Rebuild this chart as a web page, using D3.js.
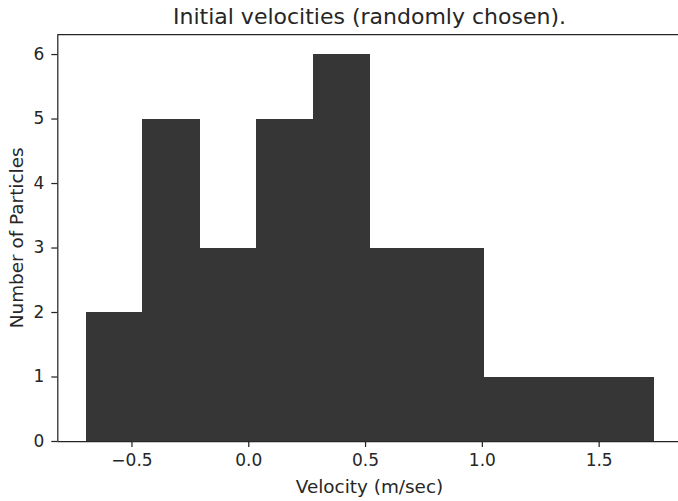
<!DOCTYPE html>
<html>
<head>
<meta charset="utf-8">
<script src="https://cdn.jsdelivr.net/npm/d3@7"></script>
<style>
  body { margin: 0; background: #fff; }
  text { font-family: "DejaVu Sans", sans-serif; fill: #262626; }
</style>
</head>
<body>
<svg id="myGraph"></svg>
<script>
var width = 678;
var height = 501;

// histogram bins (edges) and counts
var binEdges = [-0.696, -0.453, -0.210, 0.033, 0.276, 0.519, 0.762, 1.005, 1.248, 1.491, 1.734];
var counts = [2, 5, 3, 5, 6, 3, 3, 1, 1, 1];
var xTicks = [-0.5, 0.0, 0.5, 1.0, 1.5];
var yTicks = [0, 1, 2, 3, 4, 5, 6];

var margin = {top: 34.7, right: -3.7, bottom: 60, left: 57.3};

var svg = d3.select("#myGraph")
                .attr("width", width)
                .attr("height", height);

var x = d3.scaleLinear()
            .domain([-0.8175, 1.8555])
            .range([margin.left, width - margin.right]);
var y = d3.scaleLinear()
            .domain([0, 6.3])
            .range([height - margin.bottom, margin.top]);

var bins = counts.map(function(c, i){
    return {x0: binEdges[i], x1: binEdges[i + 1], n: c};
});

svg.selectAll("rect.bar")
    .data(bins)
    .enter().append("rect")
    .attr("class", "bar")
    .attr("x", function(d){ return x(d.x0); })
    .attr("width", function(d){ return x(d.x1) - x(d.x0) + 0.5; })
    .attr("y", function(d){ return y(d.n); })
    .attr("height", function(d){ return y(0) - y(d.n); })
    .attr("shape-rendering", "crispEdges")
    .attr("fill", "#363636");

// x axis
var xAxis = d3.axisBottom(x)
                .tickValues(xTicks)
                .tickSize(6)
                .tickPadding(7)
                .tickFormat(function(d){ return d3.format(".1f")(d).replace("-", "\u2212"); });
var gx = svg.append("g")
            .attr("transform", "translate(0," + y(0) + ")")
            .call(xAxis);

// y axis
var yAxis = d3.axisLeft(y)
                .tickValues(yTicks)
                .tickSize(6)
                .tickPadding(7)
                .tickFormat(d3.format("d"));
var gy = svg.append("g")
            .attr("transform", "translate(" + x.range()[0] + ",0)")
            .call(yAxis);

[gx, gy].forEach(function(g){
    g.selectAll("path.domain").attr("stroke", "#262626").attr("stroke-width", 1.25);
    g.selectAll(".tick line").attr("stroke", "#262626").attr("stroke-width", 1.25);
    g.selectAll(".tick text").style("font-size", "17px").style("font-family", "DejaVu Sans").attr("fill", "#262626");
});
gy.select("path.domain").attr("d", "M0.5," + y(0) + "V" + y(6.3));
gx.select("path.domain").attr("d", "M" + x.range()[0] + ",0.5H" + x.range()[1]);

// top spine
svg.append("line")
    .attr("x1", x.range()[0]).attr("x2", x.range()[1])
    .attr("y1", y(6.3)).attr("y2", y(6.3))
    .attr("stroke", "#262626").attr("stroke-width", 1.25);

// title and labels
svg.append("text")
    .attr("x", (x.range()[0] + x.range()[1]) / 2)
    .attr("y", 24)
    .attr("text-anchor", "middle")
    .style("font-size", "22px")
    .text("Initial velocities (randomly chosen).");

svg.append("text")
    .attr("x", (x.range()[0] + x.range()[1]) / 2)
    .attr("y", 493)
    .attr("text-anchor", "middle")
    .style("font-size", "18.4px")
    .text("Velocity (m/sec)");

svg.append("text")
    .attr("transform", "translate(23," + y(3.15) + ") rotate(-90)")
    .attr("text-anchor", "middle")
    .style("font-size", "18.4px")
    .text("Number of Particles");
</script>
</body>
</html>
